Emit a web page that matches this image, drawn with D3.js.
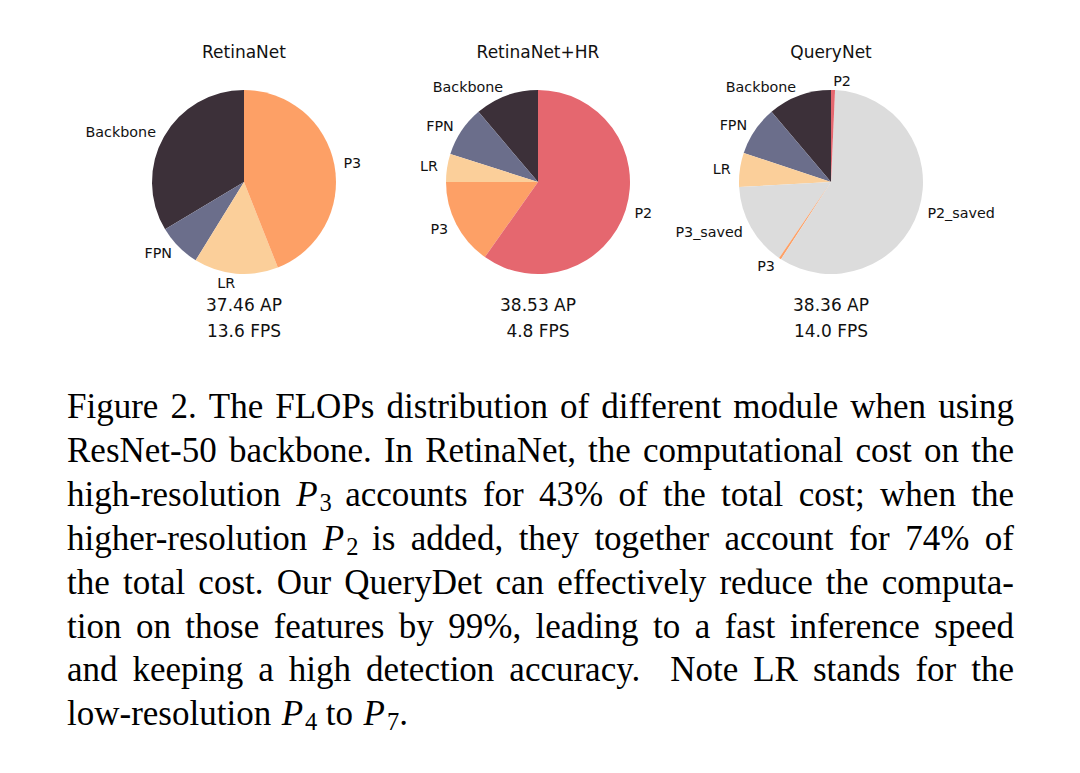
<!DOCTYPE html>
<html>
<head>
<meta charset="utf-8">
<script src="https://cdn.jsdelivr.net/npm/d3@7"></script>
<style>
body { margin: 0; background: #fff; }
</style>
</head>
<body>
<div id="chart"></div>
<script>
// chart data
var titles = ["RetinaNet", "RetinaNet+HR", "QueryNet"]
var apTexts = ["37.46 AP", "38.53 AP", "38.36 AP"]
var fpsTexts = ["13.6 FPS", "4.8 FPS", "14.0 FPS"]

var labels1 = ["Backbone", "FPN", "LR", "P3"]
var values1 = [33.6, 7.6, 14.8, 44.0]

var labels2 = ["Backbone", "FPN", "LR", "P3", "P2"]
var values2 = [11.2, 8.9, 4.9, 15.2, 59.8]

var labels3 = ["Backbone", "FPN", "LR", "P3_saved", "P3", "P2_saved", "P2"]
var values3 = [11.2, 8.7, 6.0, 14.6, 0.4, 58.5, 0.7]

var captionLines = [
    "Figure 2. The FLOPs distribution of different module when using",
    "ResNet-50 backbone. In RetinaNet, the computational cost on the",
    "high-resolution $P3 accounts for 43% of the total cost; when the",
    "higher-resolution $P2 is added, they together account for 74% of",
    "the total cost. Our QueryDet can effectively reduce the computa-",
    "tion on those features by 99%, leading to a fast inference speed",
    "and keeping a high detection accuracy.  Note LR stands for the",
    "low-resolution $P4 to $P7."
]

var colorOf = {
    "Backbone": "#3c3039",
    "FPN": "#6b6e8b",
    "LR": "#fbcf9a",
    "P3": "#fda066",
    "P2": "#e5676f",
    "P3_saved": "#dcdcdc",
    "P2_saved": "#dcdcdc"
}

var W = 1080,
    H = 773,
    r = 92,
    cy = 182,
    centers = [244, 538, 831]

var svg = d3.select("#chart")
    .append("svg")
    .attr("width", W)
    .attr("height", H)

var pies = [
    { labels: labels1, values: values1 },
    { labels: labels2, values: values2 },
    { labels: labels3, values: values3 }
]

// matplotlib style: start at top, go counterclockwise
var pie = d3.pie()
    .sort(null)
    .startAngle(0)
    .endAngle(-2 * Math.PI)
    .value(function (d) { return d.value })

var arc = d3.arc().innerRadius(0).outerRadius(r)

pies.forEach(function (p, i) {
    var data = p.labels.map(function (l, j) { return { label: l, value: p.values[j] } })
    var g = svg.append("g").attr("transform", "translate(" + centers[i] + "," + cy + ")")

    var arcs = pie(data)

    g.selectAll("path")
        .data(arcs)
        .enter()
        .append("path")
        .attr("d", arc)
        .attr("fill", function (d) { return colorOf[d.data.label] })

    g.selectAll("text.lbl")
        .data(arcs)
        .enter()
        .append("text")
        .attr("class", "lbl")
        .text(function (d) { return d.data.label })
        .attr("x", function (d) { return 1.1 * r * Math.sin((d.startAngle + d.endAngle) / 2) })
        .attr("y", function (d) { return -1.1 * r * Math.cos((d.startAngle + d.endAngle) / 2) })
        .attr("text-anchor", function (d) {
            return Math.sin((d.startAngle + d.endAngle) / 2) > 0 ? "start" : "end"
        })
        .attr("dominant-baseline", "central")
        .style("font-family", "DejaVu Sans")
        .style("font-size", "14.3px")
        .attr("fill", "#111")

    g.append("text")
        .text(titles[i])
        .attr("x", 0)
        .attr("y", 58 - cy)
        .attr("text-anchor", "middle")
        .style("font-family", "DejaVu Sans")
        .style("font-size", "17px")
        .attr("fill", "#111")

    g.append("text")
        .text(apTexts[i])
        .attr("x", 0)
        .attr("y", 311 - cy)
        .attr("text-anchor", "middle")
        .style("font-family", "DejaVu Sans")
        .style("font-size", "17px")
        .attr("fill", "#111")

    g.append("text")
        .text(fpsTexts[i])
        .attr("x", 0)
        .attr("y", 337 - cy)
        .attr("text-anchor", "middle")
        .style("font-family", "DejaVu Sans")
        .style("font-size", "17px")
        .attr("fill", "#111")
})

// caption, justified line by line
var capLeft = 67,
    capRight = 1014,
    capTop = 418,
    capStep = 43.9,
    capSize = 35

var cap = svg.append("g")
    .style("font-family", "'Liberation Serif', 'Times New Roman', serif")
    .style("font-size", capSize + "px")
    .attr("fill", "#000")

function addWord(parent, word) {
    var t = parent.append("text")
    var m = /^\$P(\d)(.*)$/.exec(word)
    if (m) {
        t.append("tspan").text("P").style("font-style", "italic")
        t.append("tspan").text(m[1]).style("font-size", (capSize * 0.7) + "px").attr("dy", 5).attr("dx", 2)
        if (m[2]) t.append("tspan").text(m[2]).attr("dy", -5)
    } else {
        t.text(word)
    }
    return t
}

captionLines.forEach(function (line, i) {
    var y = capTop + i * capStep
    var words = line.split(" ")
    // an empty entry means a double space: it widens the gap before the next word
    var items = []
    words.forEach(function (w) {
        if (w === "") { items[items.length - 1].weight += 1 } else { items.push({ word: w, weight: 1 }) }
    })
    var last = i === captionLines.length - 1
    var nodes = items.map(function (it) { return addWord(cap, it.word).attr("y", y) })
    var widths = nodes.map(function (n) { return n.node().getComputedTextLength() })
    var total = d3.sum(widths)
    var units = d3.sum(items.slice(0, -1), function (it) { return it.weight })
    var unit = last ? capSize * 0.3 : (capRight - capLeft - total) / units
    var x = capLeft
    nodes.forEach(function (n, j) {
        n.attr("x", x)
        x += widths[j] + unit * items[j].weight
    })
})
</script>
</body>
</html>
